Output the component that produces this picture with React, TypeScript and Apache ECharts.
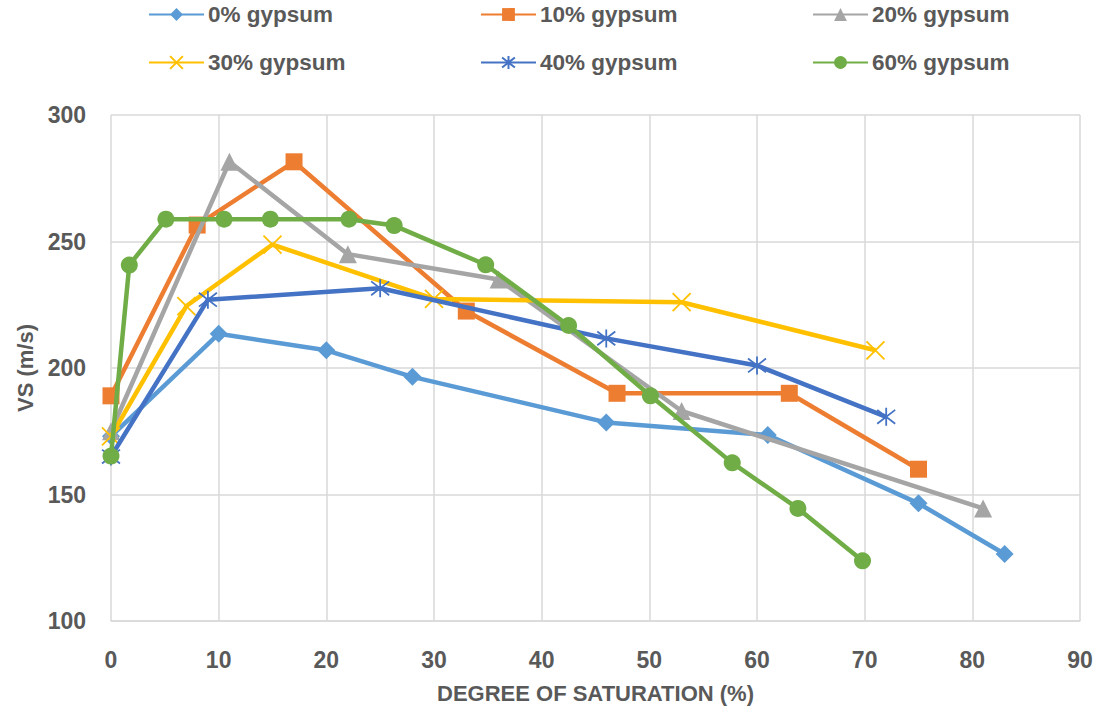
import React, { useEffect, useRef } from "react";
import * as echarts from "echarts";

const seriesNames = ["0% gypsum", "10% gypsum", "20% gypsum", "30% gypsum", "40% gypsum", "60% gypsum"];
const colors = ["#5B9BD5", "#ED7D31", "#A5A5A5", "#FFC000", "#4472C4", "#70AD47"];

const gyp0: [number, number][] = [[0, 173], [10, 213.5], [20, 207], [28, 196.5], [46, 178.5], [61, 173.5], [75, 146.5], [83, 126.5]];
const gyp10: [number, number][] = [[0, 189], [8, 256.5], [17, 281.5], [33, 222.5], [47, 190], [63, 190], [75, 160]];
const gyp20: [number, number][] = [[0, 175], [11, 281.5], [22, 245], [36, 235], [53, 183], [81, 144.5]];
const gyp30: [number, number][] = [[0, 173], [7, 224.5], [15, 248.8], [30, 227.3], [53, 226], [71, 207]];
const gyp40: [number, number][] = [[0, 165], [9, 227], [25, 231.5], [46, 211.7], [60, 201], [72, 180.7]];
const gyp60: [number, number][] = [[0, 165.2], [1.7, 240.7], [5.1, 258.8], [10.5, 258.8], [14.8, 258.8], [22.1, 258.8], [26.3, 256.3], [34.8, 240.8], [42.5, 216.8], [50.1, 189], [57.7, 162.5], [63.8, 144.5], [69.8, 123.8]];

const xTicks = { min: 0, max: 90, interval: 10 };
const yTicks = { min: 100, max: 300, interval: 50 };

const XSYM = "path://M0,0L10,10M10,0L0,10";
const STARSYM = "path://M0,0L10,10M10,0L0,10M5,-1.5L5,11.5";

const symbols = ["diamond", "rect", "triangle", XSYM, STARSYM, "circle"];
const symbolSizes = [18, 17, 18, 18, 18, 17];

const FONT = "'Liberation Sans', Arial, sans-serif";
const TXT = "#595959";

export default function App() {
  const ref = useRef<HTMLDivElement>(null);
  useEffect(() => {
    if (!ref.current) return;
    const chart = echarts.init(ref.current, undefined, { renderer: "svg" });
    const datas = [gyp0, gyp10, gyp20, gyp30, gyp40, gyp60];
    const series = datas.map((d, i) => {
      const stroked = i === 3 || i === 4;
      return {
        name: seriesNames[i],
        type: "line",
        data: d,
        symbol: symbols[i],
        symbolSize: symbolSizes[i],
        showAllSymbol: true,
        lineStyle: { color: colors[i], width: 4.5 },
        itemStyle: stroked
          ? { color: "rgba(0,0,0,0)", borderColor: colors[i], borderWidth: 1.8 }
          : { color: colors[i], borderWidth: 0 },
        emphasis: { disabled: true },
        z: 2 + i,
      };
    });
    const colLeft = [148, 480, 812];
    const rowTop = [3, 51];
    const legends = seriesNames.map((n, i) => ({
      show: true,
      left: colLeft[i % 3],
      top: rowTop[Math.floor(i / 3)],
      data: [n],
      itemWidth: 55,
      itemHeight: 16,
      padding: 0,
      textStyle: { color: TXT, fontSize: 22.5, fontWeight: "bold", fontFamily: FONT, padding: [0, 0, 0, -1] },
    }));
    chart.setOption({
      animation: false,
      color: colors,
      legend: legends,
      grid: { left: 111, right: 22, top: 115, bottom: 91, containLabel: false },
      xAxis: {
        type: "value",
        min: xTicks.min,
        max: xTicks.max,
        interval: xTicks.interval,
        name: "DEGREE OF SATURATION (%)",
        nameLocation: "middle",
        nameGap: 61,
        nameTextStyle: { color: TXT, fontSize: 22, fontWeight: "bold", fontFamily: FONT },
        axisLine: { show: true, lineStyle: { color: "#D9D9D9", width: 1.5 } },
        axisTick: { show: false },
        splitLine: { show: true, lineStyle: { color: "#D9D9D9", width: 1.5 } },
        axisLabel: { color: TXT, fontSize: 23, fontWeight: "bold", fontFamily: FONT, margin: 27 },
      },
      yAxis: {
        type: "value",
        min: yTicks.min,
        max: yTicks.max,
        interval: yTicks.interval,
        name: "VS (m/s)",
        nameLocation: "middle",
        nameGap: 74,
        nameRotate: 90,
        nameTextStyle: { color: TXT, fontSize: 22, fontWeight: "bold", fontFamily: FONT },
        axisLine: { show: false },
        axisTick: { show: false },
        splitLine: { show: true, lineStyle: { color: "#D9D9D9", width: 1.5 } },
        axisLabel: { color: TXT, fontSize: 23, fontWeight: "bold", fontFamily: FONT, margin: 25 },
      },
      series,
    });
    return () => chart.dispose();
  }, []);
  return <div ref={ref} style={{ position: "absolute", left: 0, top: 0, width: 1102, height: 712 }} />;
}
